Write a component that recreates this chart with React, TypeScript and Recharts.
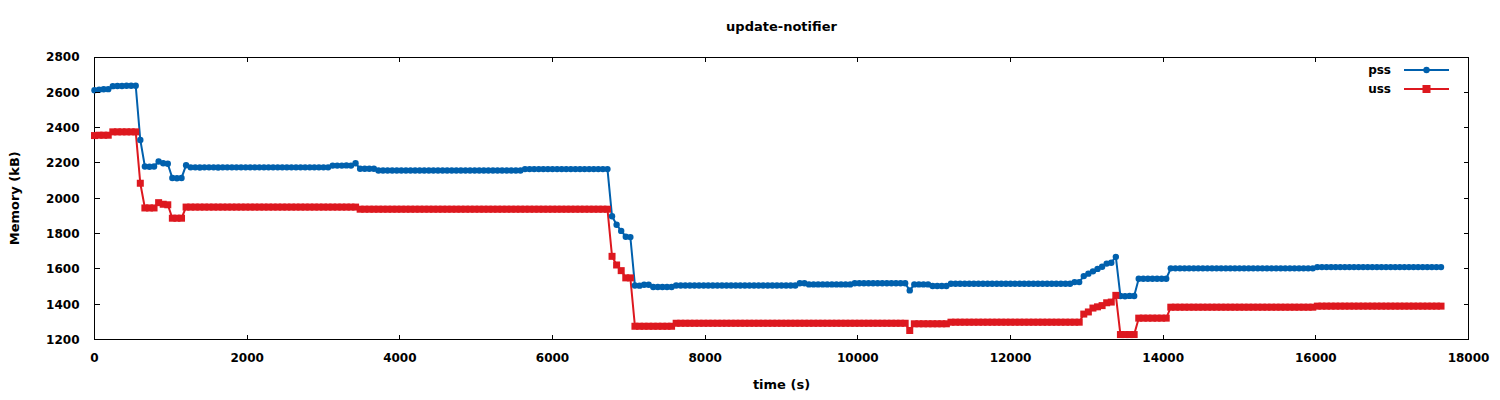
import { Legend, Line, LineChart, ReferenceArea, XAxis, YAxis } from "recharts";

// sample times (s), one every minute
const timeS = [
  0, 60, 120, 180, 240, 300, 360, 420, 480, 540,
  600, 660, 720, 780, 840, 900, 960, 1020, 1080, 1140,
  1200, 1260, 1320, 1380, 1440, 1500, 1560, 1620, 1680, 1740,
  1800, 1860, 1920, 1980, 2040, 2100, 2160, 2220, 2280, 2340,
  2400, 2460, 2520, 2580, 2640, 2700, 2760, 2820, 2880, 2940,
  3000, 3060, 3120, 3180, 3240, 3300, 3360, 3420, 3480, 3540,
  3600, 3660, 3720, 3780, 3840, 3900, 3960, 4020, 4080, 4140,
  4200, 4260, 4320, 4380, 4440, 4500, 4560, 4620, 4680, 4740,
  4800, 4860, 4920, 4980, 5040, 5100, 5160, 5220, 5280, 5340,
  5400, 5460, 5520, 5580, 5640, 5700, 5760, 5820, 5880, 5940,
  6000, 6060, 6120, 6180, 6240, 6300, 6360, 6420, 6480, 6540,
  6600, 6660, 6720, 6780, 6840, 6900, 6960, 7020, 7080, 7140,
  7200, 7260, 7320, 7380, 7440, 7500, 7560, 7620, 7680, 7740,
  7800, 7860, 7920, 7980, 8040, 8100, 8160, 8220, 8280, 8340,
  8400, 8460, 8520, 8580, 8640, 8700, 8760, 8820, 8880, 8940,
  9000, 9060, 9120, 9180, 9240, 9300, 9360, 9420, 9480, 9540,
  9600, 9660, 9720, 9780, 9840, 9900, 9960, 10020, 10080, 10140,
  10200, 10260, 10320, 10380, 10440, 10500, 10560, 10620, 10680, 10740,
  10800, 10860, 10920, 10980, 11040, 11100, 11160, 11220, 11280, 11340,
  11400, 11460, 11520, 11580, 11640, 11700, 11760, 11820, 11880, 11940,
  12000, 12060, 12120, 12180, 12240, 12300, 12360, 12420, 12480, 12540,
  12600, 12660, 12720, 12780, 12840, 12900, 12960, 13020, 13080, 13140,
  13200, 13260, 13320, 13380, 13440, 13500, 13560, 13620, 13680, 13740,
  13800, 13860, 13920, 13980, 14040, 14100, 14160, 14220, 14280, 14340,
  14400, 14460, 14520, 14580, 14640, 14700, 14760, 14820, 14880, 14940,
  15000, 15060, 15120, 15180, 15240, 15300, 15360, 15420, 15480, 15540,
  15600, 15660, 15720, 15780, 15840, 15900, 15960, 16020, 16080, 16140,
  16200, 16260, 16320, 16380, 16440, 16500, 16560, 16620, 16680, 16740,
  16800, 16860, 16920, 16980, 17040, 17100, 17160, 17220, 17280, 17340,
  17400, 17460, 17520, 17580, 17640,
];

// kB
const pss = [
  2612, 2615, 2617, 2618, 2635, 2636, 2636, 2637, 2637, 2637,
  2330, 2180, 2178, 2180, 2208, 2198, 2195, 2115, 2113, 2115,
  2187, 2175, 2175, 2174, 2175, 2175, 2175, 2174, 2175, 2175,
  2175, 2175, 2175, 2175, 2175, 2175, 2175, 2175, 2175, 2175,
  2175, 2175, 2175, 2175, 2175, 2175, 2175, 2175, 2175, 2175,
  2175, 2175, 2185, 2185, 2185, 2186, 2185, 2198, 2167, 2167,
  2167, 2167, 2157, 2157, 2157, 2157, 2157, 2157, 2157, 2157,
  2157, 2157, 2157, 2157, 2157, 2157, 2157, 2157, 2157, 2157,
  2157, 2157, 2157, 2157, 2157, 2157, 2157, 2157, 2157, 2157,
  2157, 2157, 2157, 2157, 2165, 2165, 2165, 2165, 2165, 2165,
  2165, 2165, 2165, 2165, 2165, 2165, 2165, 2165, 2165, 2165,
  2165, 2165, 2165, 1898, 1850, 1815, 1782, 1780, 1506, 1505,
  1510, 1510, 1497, 1497, 1497, 1497, 1497, 1506, 1506, 1506,
  1506, 1506, 1506, 1506, 1506, 1506, 1506, 1506, 1506, 1506,
  1506, 1506, 1506, 1506, 1506, 1506, 1506, 1506, 1506, 1506,
  1506, 1506, 1506, 1506, 1519, 1519, 1512, 1512, 1512, 1512,
  1512, 1512, 1512, 1512, 1512, 1512, 1519, 1519, 1519, 1519,
  1519, 1519, 1519, 1519, 1519, 1519, 1519, 1519, 1478, 1512,
  1512, 1512, 1512, 1503, 1503, 1503, 1503, 1516, 1516, 1516,
  1516, 1516, 1516, 1516, 1516, 1516, 1516, 1516, 1516, 1516,
  1516, 1516, 1516, 1516, 1516, 1516, 1516, 1516, 1516, 1516,
  1516, 1516, 1516, 1516, 1525, 1525, 1559, 1573, 1586, 1600,
  1612, 1630, 1635, 1668, 1446, 1445, 1447, 1446, 1544, 1544,
  1544, 1544, 1544, 1544, 1544, 1603, 1603, 1603, 1603, 1603,
  1603, 1603, 1603, 1603, 1603, 1603, 1603, 1603, 1603, 1603,
  1603, 1603, 1603, 1603, 1603, 1603, 1603, 1603, 1603, 1603,
  1603, 1603, 1603, 1603, 1603, 1603, 1603, 1610, 1610, 1610,
  1610, 1610, 1610, 1610, 1610, 1610, 1610, 1610, 1610, 1610,
  1610, 1610, 1610, 1610, 1610, 1610, 1610, 1610, 1610, 1610,
  1610, 1610, 1610, 1610, 1610,
];

const uss = [
  2355, 2357, 2357, 2357, 2376, 2376, 2376, 2376, 2376, 2376,
  2085, 1945, 1945, 1945, 1975, 1966, 1963, 1887, 1887, 1887,
  1950, 1950, 1950, 1950, 1950, 1950, 1950, 1950, 1950, 1950,
  1950, 1950, 1950, 1950, 1950, 1950, 1950, 1950, 1950, 1950,
  1950, 1950, 1950, 1950, 1950, 1950, 1950, 1950, 1950, 1950,
  1950, 1950, 1950, 1950, 1950, 1950, 1950, 1950, 1938, 1938,
  1938, 1938, 1938, 1938, 1938, 1938, 1938, 1938, 1938, 1938,
  1938, 1938, 1938, 1938, 1938, 1938, 1938, 1938, 1938, 1938,
  1938, 1938, 1938, 1938, 1938, 1938, 1938, 1938, 1938, 1938,
  1938, 1938, 1938, 1938, 1938, 1938, 1938, 1938, 1938, 1938,
  1938, 1938, 1938, 1938, 1938, 1938, 1938, 1938, 1938, 1938,
  1938, 1938, 1938, 1671, 1622, 1590, 1549, 1549, 1275, 1275,
  1275, 1275, 1275, 1275, 1275, 1275, 1275, 1292, 1292, 1292,
  1292, 1292, 1292, 1292, 1292, 1292, 1292, 1292, 1292, 1292,
  1292, 1292, 1292, 1292, 1292, 1292, 1292, 1292, 1292, 1292,
  1292, 1292, 1292, 1292, 1292, 1292, 1292, 1292, 1292, 1292,
  1292, 1292, 1292, 1292, 1292, 1292, 1292, 1292, 1292, 1292,
  1292, 1292, 1292, 1292, 1292, 1292, 1292, 1292, 1251, 1289,
  1289, 1289, 1289, 1289, 1289, 1289, 1289, 1298, 1298, 1298,
  1298, 1298, 1298, 1298, 1298, 1298, 1298, 1298, 1298, 1298,
  1298, 1298, 1298, 1298, 1298, 1298, 1298, 1298, 1298, 1298,
  1298, 1298, 1298, 1298, 1298, 1298, 1344, 1356, 1378, 1385,
  1392, 1408, 1412, 1450, 1228, 1228, 1228, 1228, 1321, 1321,
  1321, 1321, 1321, 1321, 1321, 1383, 1383, 1383, 1383, 1383,
  1383, 1383, 1383, 1383, 1383, 1383, 1383, 1383, 1383, 1383,
  1383, 1383, 1383, 1383, 1383, 1383, 1383, 1383, 1383, 1383,
  1383, 1383, 1383, 1383, 1383, 1383, 1383, 1389, 1389, 1389,
  1389, 1389, 1389, 1389, 1389, 1389, 1389, 1389, 1389, 1389,
  1389, 1389, 1389, 1389, 1389, 1389, 1389, 1389, 1389, 1389,
  1389, 1389, 1389, 1389, 1389,
];

const xTicks = [0, 2000, 4000, 6000, 8000, 10000, 12000, 14000, 16000, 18000];
const yTicks = [1200, 1400, 1600, 1800, 2000, 2200, 2400, 2600, 2800];

const data = timeS.map((t, i) => ({ t, pss: pss[i], uss: uss[i] }));

const PSS_COLOR = "#0060ad";
const USS_COLOR = "#dd181f";
const FONT = "'DejaVu Sans', sans-serif";

const WIDTH = 1500;
const HEIGHT = 400;
const MARGIN = { top: 57, right: 31.5, bottom: 0.5, left: 0.5 };
const Y_AXIS_WIDTH = 94;
const X_AXIS_HEIGHT = 60;
const PLOT_TOP = MARGIN.top;
const PLOT_BOTTOM = HEIGHT - MARGIN.bottom - X_AXIS_HEIGHT;
const PLOT_LEFT = MARGIN.left + Y_AXIS_WIDTH;
const PLOT_RIGHT = WIDTH - MARGIN.right;
const TICK_LEN = 5;

const textStyle = {
  fontFamily: FONT,
  fontSize: 12,
  fontWeight: "bold" as const,
  fill: "#000",
};
const labelStyle = { ...textStyle, fontSize: 13 };

function XTick({ x, y, payload }: any) {
  return (
    <g shapeRendering="crispEdges">
      <line x1={x} x2={x} y1={PLOT_BOTTOM} y2={PLOT_BOTTOM - TICK_LEN} stroke="#000" />
      <line x1={x} x2={x} y1={PLOT_TOP} y2={PLOT_TOP + TICK_LEN} stroke="#000" />
      <text x={x} y={y + 22} textAnchor="middle" style={textStyle}>
        {payload.value}
      </text>
    </g>
  );
}

function YTick({ x, y, payload }: any) {
  return (
    <g shapeRendering="crispEdges">
      <line x1={PLOT_LEFT} x2={PLOT_LEFT + TICK_LEN} y1={y} y2={y} stroke="#000" />
      <line x1={PLOT_RIGHT} x2={PLOT_RIGHT - TICK_LEN} y1={y} y2={y} stroke="#000" />
      <text x={x - 15} y={y} dy={4.4} textAnchor="end" style={textStyle}>
        {payload.value}
      </text>
    </g>
  );
}

function SquareDot({ cx, cy, size = 7, color }: any) {
  if (cx == null || cy == null) return null;
  return <rect x={cx - size / 2} y={cy - size / 2} width={size} height={size} fill={color} />;
}

function LegendBox({ payload }: any) {
  const items = payload ?? [];
  return (
    <svg width={140} height={40}>
      {items.map((entry: any, i: number) => {
        const cy = 10 + i * 19;
        const color = entry.color;
        return (
          <g key={entry.value}>
            <text x={61} y={cy} dy={4} textAnchor="end" style={textStyle}>
              {entry.value}
            </text>
            <line x1={74} x2={119} y1={cy} y2={cy} stroke={color} strokeWidth={2} />
            {entry.dataKey === "uss" ? (
              <SquareDot cx={96.5} cy={cy} size={8} color={color} />
            ) : (
              <circle cx={96.5} cy={cy} r={3.2} fill={color} />
            )}
          </g>
        );
      })}
    </svg>
  );
}

export default function App() {
  const midX = (PLOT_LEFT + PLOT_RIGHT) / 2;
  const midY = (PLOT_TOP + PLOT_BOTTOM) / 2;
  return (
    <div style={{ position: "absolute", left: 0, top: 0, background: "#fff" }}>
      <LineChart width={WIDTH} height={HEIGHT} data={data} margin={MARGIN}>
        <XAxis
          dataKey="t"
          type="number"
          domain={[0, 18000]}
          ticks={xTicks}
          interval={0}
          height={X_AXIS_HEIGHT}
          axisLine={false}
          tickLine={false}
          tickSize={0}
          tickMargin={0}
          tick={(p: any) => <XTick {...p} />}
        />
        <YAxis
          type="number"
          domain={[1200, 2800]}
          ticks={yTicks}
          interval={0}
          width={Y_AXIS_WIDTH}
          axisLine={false}
          tickLine={false}
          tickSize={0}
          tickMargin={0}
          tick={(p: any) => <YTick {...p} />}
        />
        <ReferenceArea
          x1={0}
          x2={18000}
          y1={1200}
          y2={2800}
          fill="none"
          stroke="#000"
          strokeWidth={1}
          shapeRendering="crispEdges"
        />
        <Legend
          layout="vertical"
          align="center"
          verticalAlign="middle"
          wrapperStyle={{ top: 60, left: 1330, width: 140, height: 40 }}
          content={(p: any) => <LegendBox {...p} />}
        />
        <Line
          dataKey="pss"
          name="pss"
          type="linear"
          stroke={PSS_COLOR}
          strokeWidth={2}
          dot={{ r: 3.2, fill: PSS_COLOR, stroke: "none" }}
          activeDot={false}
          isAnimationActive={false}
        />
        <Line
          dataKey="uss"
          name="uss"
          type="linear"
          stroke={USS_COLOR}
          strokeWidth={2}
          dot={(p: any) => <SquareDot key={p.index} cx={p.cx} cy={p.cy} color={USS_COLOR} />}
          activeDot={false}
          isAnimationActive={false}
        />
        <text x={midX} y={31} textAnchor="middle" style={labelStyle}>
          update-notifier
        </text>
        <text x={midX} y={389} textAnchor="middle" style={labelStyle}>
          time (s)
        </text>
        <text
          x={14}
          y={midY}
          dy={4.7}
          textAnchor="middle"
          transform={`rotate(-90 14 ${midY})`}
          style={labelStyle}
        >
          Memory (kB)
        </text>
      </LineChart>
    </div>
  );
}
